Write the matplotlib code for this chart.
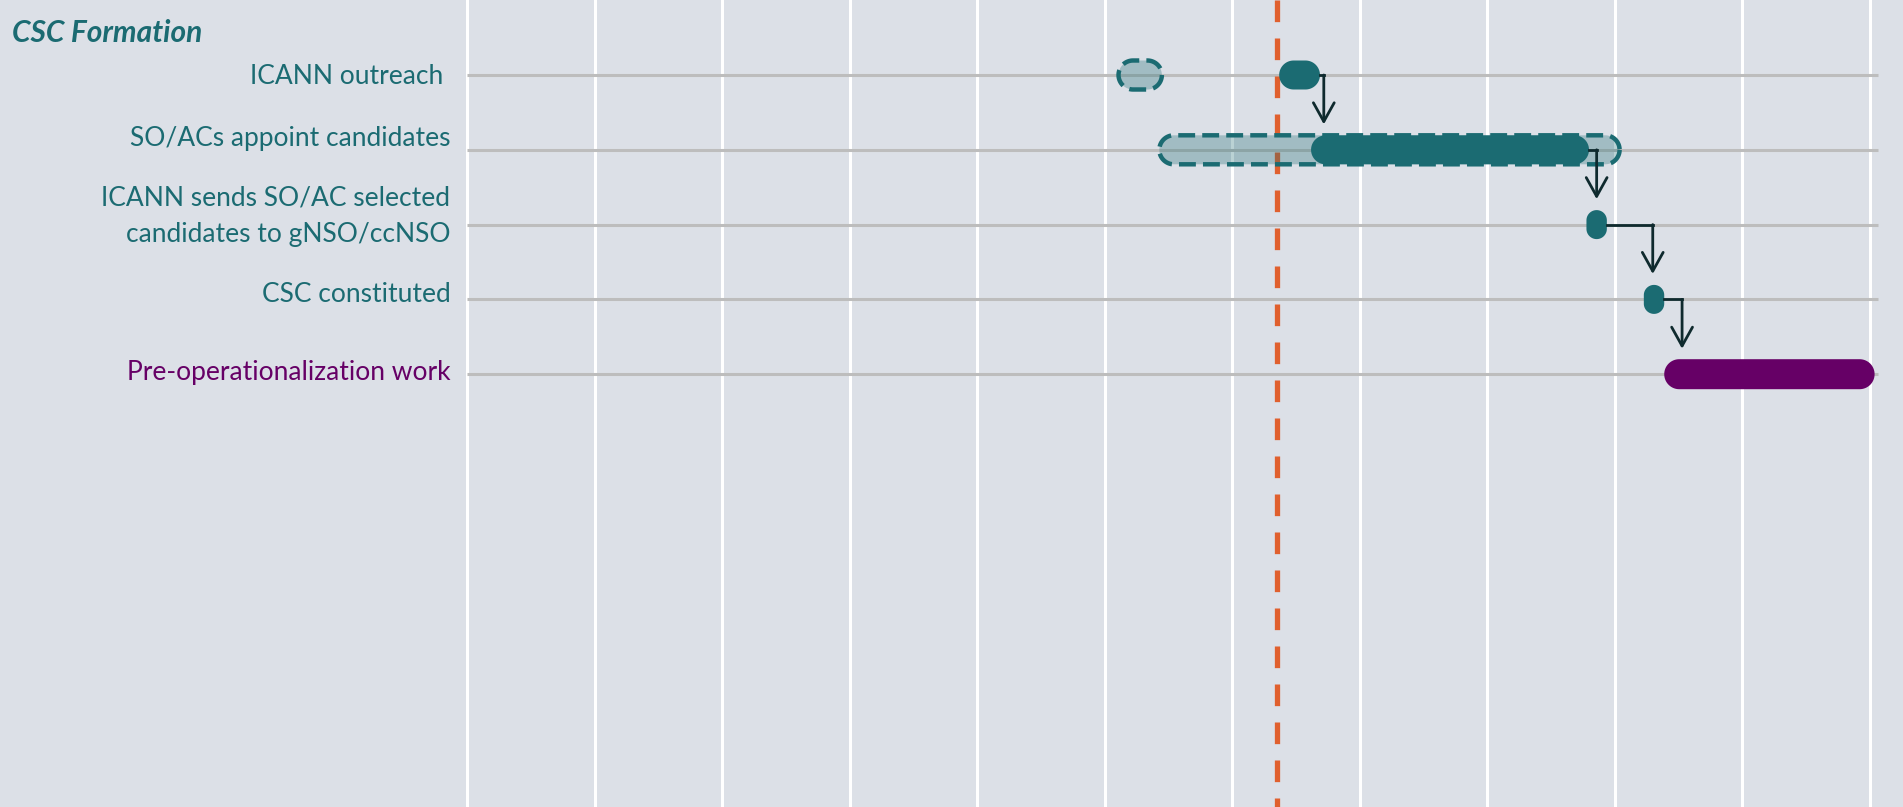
import numpy as np
import matplotlib.pyplot as plt

# rows of the gantt (top to bottom)
tasks = ["ICANN outreach ", "SO/ACs appoint candidates",
         "ICANN sends SO/AC selected\ncandidates to gNSO/ccNSO",
         "CSC constituted", "Pre-operationalization work"]
task_colors = ["#1b6b72", "#1b6b72", "#1b6b72", "#1b6b72", "#660066"]

# planned (dashed outline) spans, x in grid units
planned_row = [0, 1]
planned_start = [5.11, 5.43]
planned_end = [5.45, 9.04]

# actual spans
actual_row = [0, 1, 2, 3, 4]
actual_start = [6.37, 6.62, 8.78, 9.23, 9.39]
actual_end = [6.69, 8.80, 8.94, 9.39, 11.04]

# dependency arrows: from row, x of the vertical drop
arrow_from = [0, 1, 2, 3]
arrow_x = [6.72, 8.86, 9.30, 9.53]

today = 6.35
n_grid = 12

BG = "#dce0e7"
TEAL = "#1b6b72"

px_x = 127.5   # pixels per grid unit
px_y = 74.8    # pixels per row
x0 = 467
y_top = -75 / px_y
y_bot = (807 - 75) / px_y

fig = plt.figure(figsize=(19.03, 8.07), dpi=100, facecolor=BG)
ax = fig.add_axes([0, 0, 1, 1], facecolor=BG)
ax.set_xlim(-x0 / px_x, (1903 - x0) / px_x)
ax.set_ylim(y_bot, y_top)
ax.axis("off")

for g in range(n_grid):
    ax.axvline(g, color="white", lw=2.2, zorder=1)

# small vertical nudges of the labels, in rows
label_dy = [0.025, -0.155, -0.11, -0.07, -0.02]
for i in range(len(tasks)):
    ax.plot([0, 11.07], [i, i], color="#bdbdbd", lw=2.2, zorder=2, solid_capstyle="butt")
    ax.text(-0.13, i + label_dy[i], tasks[i], ha="right", va="center", fontsize=19,
            color=task_colors[i], family="Lato", linespacing=1.6)

ax.text(-x0 / px_x + 12 / px_x, y_top + 33 / px_y, "CSC Formation",
        ha="left", va="center", fontsize=21.5, color=TEAL, family="Lato",
        weight="bold", style="italic")

# today line
ax.plot([today, today], [y_top, y_bot], color="#e0602e", lw=3.8,
        linestyle=(0, (4.1, 3.1)), zorder=2.5)


def rounded(x1, x2, row, h_px):
    # rounded rectangle outline with circular corners (radius in pixels)
    w_px = (x2 - x1) * px_x
    r = min(w_px, h_px) / 2
    rx, ry = r / px_x, r / px_y
    top, bot = row - h_px / 2 / px_y, row + h_px / 2 / px_y
    t = np.linspace(0, np.pi / 2, 20)
    xs, ys = [], []
    for cx, cy, a0 in [(x2 - rx, bot - ry, 0), (x1 + rx, bot - ry, np.pi / 2),
                       (x1 + rx, top + ry, np.pi), (x2 - rx, top + ry, 1.5 * np.pi)]:
        xs.extend(cx + rx * np.cos(a0 + t))
        ys.extend(cy + ry * np.sin(a0 + t))
    xs.append(xs[0])
    ys.append(ys[0])
    return np.array(xs), np.array(ys)


for r, s, e in zip(planned_row, planned_start, planned_end):
    xs, ys = rounded(s, e, r, 29)
    ax.fill(xs, ys, color=TEAL, alpha=0.3, lw=0, zorder=3)
    ax.plot(xs, ys, color=TEAL, lw=3.2, linestyle=(0, (3.8, 1.6)), zorder=3)

for r, s, e in zip(actual_row, actual_start, actual_end):
    h = 29 if r < 4 else 30
    xs, ys = rounded(s, e, r, h)
    ax.fill(xs, ys, color=task_colors[r], lw=0, zorder=4)

for fr, xa in zip(arrow_from, arrow_x):
    xe = actual_end[fr]
    ax.plot([xe, xa], [fr, fr], color="#0f2a2e", lw=2, zorder=5, solid_capstyle="projecting")
    ax.annotate("", xy=(xa, fr + 0.66), xytext=(xa, fr),
                arrowprops=dict(arrowstyle="->,head_length=1.35,head_width=0.75",
                                color="#0f2a2e", lw=2, shrinkA=0, shrinkB=0), zorder=5)

fig.savefig("out.png", dpi=100, facecolor=BG)
